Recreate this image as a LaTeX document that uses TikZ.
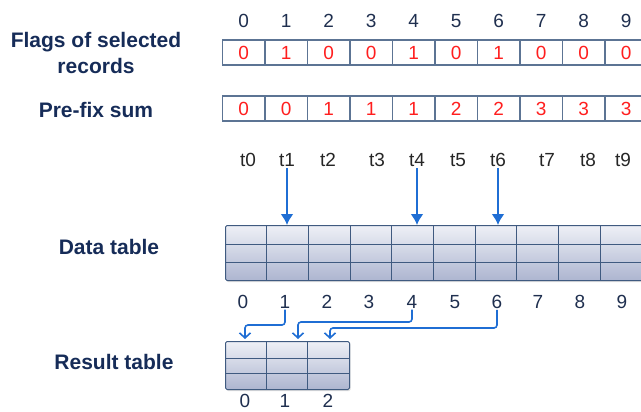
\documentclass[tikz,border=0pt]{standalone}
\usepackage{fontspec}
\setmainfont{Liberation Sans}
\usetikzlibrary{arrows.meta,shadows,calc}

\definecolor{labelnavy}{HTML}{162C58}
\definecolor{idxnavy}{HTML}{1F2F4F}
\definecolor{flagred}{HTML}{FF1E1E}
\definecolor{cellline}{HTML}{5C7494}
\definecolor{arrowblue}{HTML}{1F6ED4}
\definecolor{tbltop}{HTML}{EEF0F6}
\definecolor{tblbot}{HTML}{ADB5D0}
\definecolor{tblline}{HTML}{3F5A80}

\begin{document}
\begin{tikzpicture}[x=1pt,y=-1pt,
  rowlabel/.style={text=labelnavy, font=\fontsize{21}{26}\selectfont\bfseries, align=center},
  idx/.style={text=idxnavy, font=\fontsize{19}{22}\selectfont, inner sep=1pt},
  tlabel/.style={text=black!85, font=\fontsize{19}{22}\selectfont, inner sep=1pt},
  cell/.style={draw=cellline, line width=1.2pt, fill=white, minimum width=42.5pt,
    minimum height=25pt, inner sep=0pt, text=flagred, font=\fontsize{19}{22}\selectfont},
  tbl/.style={draw=tblline, line width=1pt, rounded corners=1.5pt, top color=tbltop,
    bottom color=tblbot, anchor=north west, inner sep=0pt,
    drop shadow={opacity=0.25, shadow xshift=1pt, shadow yshift=-1.5pt}},
  grid/.style={draw=tblline, line width=0.9pt},
  down/.style={draw=arrowblue, line width=2pt, -{Latex[length=11pt,width=13pt]}},
  conn/.style={draw=arrowblue, line width=1.6pt, rounded corners=3pt,
    -{Straight Barb[length=5pt,width=11pt]}}]
\useasboundingbox (0,0) rectangle (641,412);

% row labels
\node[rowlabel] (lflags) at (96,53) {Flags of selected\\records};
\node[rowlabel] (lprefix) at (96,110) {Pre-fix sum};
\node[rowlabel] (ldata) at (109,247) {Data table};
\node[rowlabel] (lres) at (114,362) {Result table};

% column indices above the flags
\foreach \i in {0,...,9}
  \node[idx] (i\i) at ({222.5+42.5*(\i+0.5)},21) {\i};

% flags of selected records
\foreach \v [count=\c] in {0,1,0,0,1,0,1,0,0,0}{
  \pgfmathtruncatemacro{\i}{\c-1}
  \node[cell] (f\i) at ({222.5+42.5*(\i+0.5)},52.5) {\v};
}

% prefix sum
\foreach \v [count=\c] in {0,0,1,1,1,2,2,3,3,3}{
  \pgfmathtruncatemacro{\i}{\c-1}
  \node[cell] (p\i) at ({222.5+42.5*(\i+0.5)},108.5) {\v};
}

% threads
\foreach \x [count=\c] in {248,287,328,377,417,458,498,547,588,623}{
  \pgfmathtruncatemacro{\i}{\c-1}
  \node[tlabel] (t\i) at (\x,160) {t\i};
}

% data table
\node[tbl, minimum width=418pt, minimum height=55pt] (data) at (225,225) {};
\foreach \k in {1,...,9}
  \draw[grid] ($(data.north west)+({41.7*\k},0)$) -- ($(data.south west)+({41.7*\k},0)$);
\draw[grid] ($(data.north west)+(0,19)$) -- ($(data.north east)+(0,19)$);
\draw[grid] ($(data.north west)+(0,37)$) -- ($(data.north east)+(0,37)$);

% selected threads write into the data table
\foreach \i in {1,4,6}
  \draw[down] (t\i.south) -- (t\i.south |- data.north);

% data table row indices
\foreach \x [count=\c] in {243,285,327,369,412,455,497,538,580,622}{
  \pgfmathtruncatemacro{\i}{\c-1}
  \node[idx] (b\i) at (\x,302) {\i};
}

% result table
\node[tbl, minimum width=124pt, minimum height=48pt] (res) at (225,341) {};
\foreach \k in {1,2}
  \draw[grid] ($(res.north west)+({41.3*\k},0)$) -- ($(res.south west)+({41.3*\k},0)$);
\draw[grid] ($(res.north west)+(0,17)$) -- ($(res.north east)+(0,17)$);
\draw[grid] ($(res.north west)+(0,32)$) -- ($(res.north east)+(0,32)$);

\foreach \x [count=\c] in {245,285,328}{
  \pgfmathtruncatemacro{\i}{\c-1}
  \node[idx] (r\i) at (\x,401) {\i};
}

% targets in the result table
\coordinate (c0) at (245,339);
\coordinate (c1) at (298,339);
\coordinate (c2) at (330,339);

% compaction connectors
\draw[conn] (b1.south) -- (b1.south |- 0,325) -| (c0);
\draw[conn] (b4.south) -- (b4.south |- 0,322) -| (c1);
\draw[conn] (b6.south) -- (b6.south |- 0,328) -| (c2);
\end{tikzpicture}
\end{document}
